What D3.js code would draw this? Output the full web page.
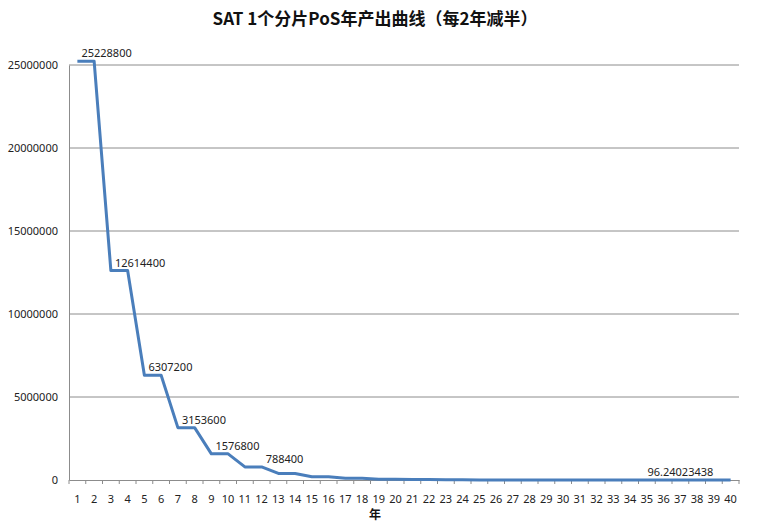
<!DOCTYPE html>
<html>
<head>
<meta charset="utf-8">
<script src="https://cdn.jsdelivr.net/npm/d3@7"></script>
<style>
  body { margin: 0; background: #fff; }
  text { font-family: "Noto Sans", "Open Sans", sans-serif; }
</style>
</head>
<body>
<div id="chart"></div>
<script>
// chart data
var years = [1, 2, 3, 4, 5, 6, 7, 8, 9, 10,
    11, 12, 13, 14, 15, 16, 17, 18, 19, 20,
    21, 22, 23, 24, 25, 26, 27, 28, 29, 30,
    31, 32, 33, 34, 35, 36, 37, 38, 39, 40];
var output = [25228800, 25228800, 12614400, 12614400, 6307200, 6307200,
    3153600, 3153600, 1576800, 1576800, 788400, 788400, 394200, 394200,
    197100, 197100, 98550, 98550, 49275, 49275, 24637.5, 24637.5,
    12318.75, 12318.75, 6159.375, 6159.375, 3079.6875, 3079.6875,
    1539.84375, 1539.84375, 769.921875, 769.921875, 384.9609375, 384.9609375,
    192.4804688, 192.4804688, 96.24023438, 96.24023438, 48.12011719, 48.12011719];
var yTicks = [0, 5000000, 10000000, 15000000, 20000000, 25000000];
var labelYears = [1, 3, 5, 7, 9, 12, 37];
var labelTexts = ["25228800", "12614400", "6307200", "3153600", "1576800", "788400", "96.24023438"];

var svgWidth = 762;
var svgHeight = 521;
var margin = { top: 65, right: 23, bottom: 41, left: 69 };
var chartWidth = svgWidth - margin.left - margin.right;
var chartHeight = svgHeight - margin.top - margin.bottom;

var svg = d3.select("#chart")
    .append("svg")
    .attr("width", svgWidth)
    .attr("height", svgHeight);

var chartGroup = svg.append("g")
    .attr("transform", `translate(${margin.left}, ${margin.top})`);

var xScale = d3.scaleBand()
    .domain(years)
    .range([0, chartWidth])
    .padding(0);

var yScale = d3.scaleLinear()
    .domain([0, 25000000])
    .range([chartHeight, 0]);

var xMid = d => xScale(d) + xScale.bandwidth() / 2;

// gridlines
chartGroup.append("g")
    .selectAll("line")
    .data(yTicks.slice(1))
    .enter()
    .append("line")
    .attr("x1", 0)
    .attr("x2", chartWidth)
    .attr("y1", d => yScale(d))
    .attr("y2", d => yScale(d))
    .attr("stroke", "#8c8c8c")
    .attr("stroke-width", 1);

// y axis
var leftAxis = d3.axisLeft(yScale)
    .tickValues(yTicks)
    .tickFormat(d3.format("d"))
    .tickSize(0)
    .tickPadding(11);
var yAxis = chartGroup.append("g").call(leftAxis);
yAxis.select(".domain").attr("stroke", "#8c8c8c");
yAxis.selectAll("text")
    .attr("font-size", 11)
    .attr("fill", "#222");

// x axis
var bottomAxis = d3.axisBottom(xScale)
    .tickSize(0)
    .tickPadding(15);
var xAxis = chartGroup.append("g")
    .attr("transform", `translate(0, ${chartHeight})`)
    .call(bottomAxis);
xAxis.select(".domain").attr("stroke", "#8c8c8c");
xAxis.selectAll("text")
    .attr("font-size", 11)
    .attr("fill", "#222");

// category boundary tick marks
xAxis.append("g")
    .selectAll("line")
    .data(years.concat(["end"]))
    .enter()
    .append("line")
    .attr("x1", d => d === "end" ? chartWidth : xScale(d))
    .attr("x2", d => d === "end" ? chartWidth : xScale(d))
    .attr("y1", 0)
    .attr("y2", 4)
    .attr("stroke", "#8c8c8c");

// line
var line = d3.line()
    .x((d, i) => xMid(years[i]))
    .y(d => yScale(d));

chartGroup.append("path")
    .datum(output)
    .attr("d", line)
    .attr("fill", "none")
    .attr("stroke", "#4a7ebb")
    .attr("stroke-width", 3)
    .attr("stroke-linejoin", "round");

// data labels
chartGroup.append("g")
    .selectAll("text")
    .data(labelYears)
    .enter()
    .append("text")
    .attr("x", (d, i) => i === labelYears.length - 1 ? xMid(d) : xMid(d) + 4)
    .attr("y", d => yScale(output[years.indexOf(d)]) - 4)
    .attr("text-anchor", (d, i) => i === labelYears.length - 1 ? "middle" : "start")
    .attr("font-size", 11)
    .attr("fill", "#222")
    .text((d, i) => labelTexts[i]);

// title
svg.append("text")
    .attr("x", 375)
    .attr("y", 25)
    .attr("text-anchor", "middle")
    .attr("font-size", 17)
    .attr("font-weight", "bold")
    .style("font-family", "'Noto Sans CJK SC', 'Noto Sans', sans-serif")
    .attr("fill", "#111")
    .text("SAT 1个分片PoS年产出曲线（每2年减半）");

// x axis title
svg.append("text")
    .attr("x", 375)
    .attr("y", 519)
    .attr("text-anchor", "middle")
    .attr("font-size", 12)
    .attr("font-weight", "bold")
    .style("font-family", "'Noto Sans CJK SC', sans-serif")
    .attr("fill", "#111")
    .text("年");
</script>
</body>
</html>
